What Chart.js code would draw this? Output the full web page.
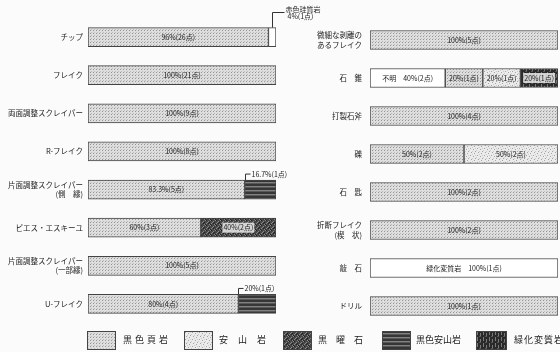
<!DOCTYPE html>
<html>
<head>
<meta charset="utf-8">
<title>石材別 器種構成</title>
<style>
  body { margin: 0; background: #fbfbfb; font-family: "Noto Sans CJK JP", sans-serif; }
  #wrap { position: relative; width: 560px; height: 352px; overflow: hidden; }
  #wrap canvas.chart { position: absolute; left: 0; top: 0; }
  .sw { position: absolute; top: 331px; }
  .lt { position: absolute; top: 334px; font-size: 9px; line-height: 12px; color: #222; white-space: nowrap; }
</style>
</head>
<body>
<div id="wrap">
  <canvas id="chartLeft" class="chart" width="560" height="352"></canvas>
  <canvas id="chartRight" class="chart" width="560" height="352"></canvas>
  <canvas class="sw" id="sw0" width="29" height="19" style="left:87px"></canvas>
  <span class="lt" style="left:123px;letter-spacing:3px">黒色頁岩</span>
  <canvas class="sw" id="sw1" width="29" height="19" style="left:184px"></canvas>
  <span class="lt" style="left:219px;letter-spacing:10px">安山岩</span>
  <canvas class="sw" id="sw2" width="29" height="19" style="left:283px"></canvas>
  <span class="lt" style="left:318px;letter-spacing:9px">黒曜石</span>
  <canvas class="sw" id="sw3" width="29" height="19" style="left:382px"></canvas>
  <span class="lt" style="left:416px">黒色安山岩</span>
  <canvas class="sw" id="sw4" width="31" height="19" style="left:476px"></canvas>
  <span class="lt" style="left:514px;letter-spacing:1px">緑化変質岩</span>
</div>

<script src="https://cdn.jsdelivr.net/npm/chart.js"></script>
<script>
  // 左列
  var leftLabels = ['チップ', 'フレイク', '両面調整スクレイパー', 'R-フレイク',
    ['片面調整スクレイパー', '(側　縁)'], 'ピエス・エスキーユ',
    ['片面調整スクレイパー', '(一部縁)'], 'U-フレイク'];
  var leftShale = [96, 100, 100, 100, 83.3, 60, 100, 80];
  var leftShaleN = [26, 21, 9, 8, 5, 3, 5, 4];
  var leftRed = [4, 0, 0, 0, 0, 0, 0, 0];
  var leftRedN = [1, 0, 0, 0, 0, 0, 0, 0];
  var leftObsidian = [0, 0, 0, 0, 0, 40, 0, 0];
  var leftObsidianN = [0, 0, 0, 0, 0, 2, 0, 0];
  var leftBlackAnd = [0, 0, 0, 0, 16.7, 0, 0, 20];
  var leftBlackAndN = [0, 0, 0, 0, 1, 0, 0, 1];

  // 右列
  var rightLabels = [['微細な剥離の', 'あるフレイク'], '石　錐', '打製石斧', '礫', '石　匙',
    ['折断フレイク', '(楔　状)'], '敲　石', 'ドリル'];
  var rightUnknown = [0, 40, 0, 0, 0, 0, 0, 0];
  var rightUnknownN = [0, 2, 0, 0, 0, 0, 0, 0];
  var rightShale = [100, 20, 100, 50, 100, 100, 0, 100];
  var rightShaleN = [5, 1, 4, 2, 2, 2, 0, 1];
  var rightAndesite = [0, 20, 0, 50, 0, 0, 0, 0];
  var rightAndesiteN = [0, 1, 0, 2, 0, 0, 0, 0];
  var rightGreen = [0, 20, 0, 0, 0, 0, 100, 0];
  var rightGreenN = [0, 1, 0, 0, 0, 0, 1, 0];

  function makePattern(w, h, draw) {
    var c = document.createElement('canvas');
    c.width = w; c.height = h;
    var g = c.getContext('2d');
    draw(g);
    return g.createPattern(c, 'repeat');
  }

  var patShale = makePattern(3, 3, function (g) {
    g.fillStyle = '#dedede'; g.fillRect(0, 0, 3, 3);
    g.fillStyle = '#949494'; g.fillRect(0, 0, 1, 1);
    g.fillStyle = '#bcbcbc'; g.fillRect(1, 2, 1, 1);
  });
  var patAndesite = makePattern(7, 7, function (g) {
    g.fillStyle = '#ebebeb'; g.fillRect(0, 0, 7, 7);
    g.fillStyle = '#a4a4a4';
    [[1, 1], [4, 2], [2, 5], [6, 4], [5, 6]].forEach(function (p) { g.fillRect(p[0], p[1], 1, 1); });
    g.fillStyle = '#cccccc';
    [[3, 0], [0, 3], [6, 1], [3, 4]].forEach(function (p) { g.fillRect(p[0], p[1], 1, 1); });
  });
  var patObsidian = makePattern(5, 5, function (g) {
    g.fillStyle = '#474747'; g.fillRect(0, 0, 5, 5);
    g.fillStyle = '#8a8a8a';
    [[0, 0], [3, 1], [1, 3], [4, 4], [2, 2]].forEach(function (p) { g.fillRect(p[0], p[1], 1, 1); });
    g.fillStyle = '#222222';
    [[1, 0], [4, 2], [0, 4], [3, 3]].forEach(function (p) { g.fillRect(p[0], p[1], 1, 1); });
  });
  var patBlackAnd = makePattern(2, 4, function (g) {
    g.fillStyle = '#363636'; g.fillRect(0, 0, 2, 4);
    g.fillStyle = '#828282'; g.fillRect(0, 2, 2, 1);
    g.fillStyle = '#585858'; g.fillRect(0, 3, 2, 1);
  });
  var patGreen = makePattern(6, 6, function (g) {
    g.fillStyle = '#2a2a2a'; g.fillRect(0, 0, 6, 6);
    g.fillStyle = '#7a7a7a';
    g.fillRect(1, 0, 1, 4); g.fillRect(4, 2, 1, 3);
    g.fillStyle = '#555555'; g.fillRect(3, 5, 2, 1);
  });

  function nz(arr) { return arr.map(function (v) { return v || null; }); }

  function fmt(v, n) { return v + '%(' + n + '点)'; }

  // 棒の中の値ラベルと、外に出す注記
  var segLabels = {
    id: 'segLabels',
    afterDatasetsDraw: function (chart) {
      var ctx = chart.ctx;
      var conf = chart.options.plugins.segLabels;
      ctx.save();
      ctx.font = '7px "Noto Sans CJK JP"';
      ctx.textBaseline = 'middle';
      chart.data.datasets.forEach(function (ds, di) {
        var meta = chart.getDatasetMeta(di);
        meta.data.forEach(function (el, i) {
          var v = ds.data[i];
          if (!v) return;
          var n = ds.counts[i];
          var x0 = Math.min(el.x, el.base), x1 = Math.max(el.x, el.base);
          var top = el.y - el.height / 2;
          var mode = conf.outside[di];
          ctx.fillStyle = '#222';
          ctx.strokeStyle = '#333';
          ctx.lineWidth = 1;
          if (mode === 'named') {
            var lx = Math.round((x0 + x1) / 2) + 0.5;
            ctx.beginPath();
            ctx.moveTo(lx, top);
            ctx.lineTo(lx, 12.5);
            ctx.lineTo(lx + 12, 12.5);
            ctx.stroke();
            ctx.textAlign = 'left';
            ctx.fillText(ds.label, lx + 13, 9);
            ctx.fillText(fmt(v, n), lx + 15, 16);
            return;
          }
          if (mode === 'edge') {
            var ex = Math.round(x0) + 0.5;
            ctx.beginPath();
            ctx.moveTo(ex, top);
            ctx.lineTo(ex, top - 6);
            ctx.lineTo(ex + 5, top - 6);
            ctx.stroke();
            ctx.textAlign = 'left';
            ctx.fillText(fmt(v, n), ex + 6, top - 6);
            return;
          }
          var txt = (ds.prefix && ds.prefix[i] ? ds.prefix[i] : '') + fmt(v, n);
          var cx = (x0 + x1) / 2;
          ctx.textAlign = 'center';
          if (ds.darkText === false && ds.backgroundColor[i] !== '#ffffff') {
            var tw = ctx.measureText(txt).width;
            ctx.fillStyle = 'rgba(235,235,235,0.85)';
            ctx.fillRect(cx - tw / 2 - 1, el.y - 5, tw + 2, 10);
            ctx.fillStyle = '#222';
          }
          ctx.fillText(txt, cx, el.y);
        });
      });
      ctx.restore();
    }
  };

  function colors(arr, pat, override) {
    return arr.map(function (v, i) { return override && override[i] ? override[i] : pat; });
  }

  function baseOptions(pad, axisWidth, labelPad, outside) {
    return {
      indexAxis: 'y',
      responsive: false,
      animation: false,
      devicePixelRatio: 1,
      layout: { padding: pad },
      plugins: { legend: { display: false }, tooltip: { enabled: false }, segLabels: { outside: outside } },
      scales: {
        x: { stacked: true, min: 0, max: 100, display: false },
        y: {
          stacked: true,
          grid: { display: false, drawTicks: false },
          border: { display: false },
          afterFit: function (s) { s.width = axisWidth; },
          ticks: { padding: labelPad, color: '#222', font: { family: '"Noto Sans CJK JP"', size: 7.5, lineHeight: 1.25 } }
        }
      }
    };
  }

  function ds(label, data, counts, bg, extra) {
    var d = {
      label: label,
      data: nz(data),
      counts: counts,
      backgroundColor: bg,
      borderColor: '#444444',
      borderWidth: 1,
      borderSkipped: false,
      barThickness: 19
    };
    for (var k in extra) d[k] = extra[k];
    return d;
  }

  new Chart(document.getElementById('chartLeft'), {
    type: 'bar',
    data: {
      labels: leftLabels,
      datasets: [
        ds('黒色頁岩', leftShale, leftShaleN, colors(leftShale, patShale)),
        ds('赤色珪質岩', leftRed, leftRedN, colors(leftRed, '#ffffff')),
        ds('黒曜石', leftObsidian, leftObsidianN, colors(leftObsidian, patObsidian), { darkText: false }),
        ds('黒色安山岩', leftBlackAnd, leftBlackAndN, colors(leftBlackAnd, patBlackAnd))
      ]
    },
    options: baseOptions({ left: 0, right: 284, top: 18, bottom: 29 }, 88, 5, [null, 'named', null, 'edge']),
    plugins: [segLabels]
  });

  new Chart(document.getElementById('chartRight'), {
    type: 'bar',
    data: {
      labels: rightLabels,
      datasets: [
        ds('不明', rightUnknown, rightUnknownN, colors(rightUnknown, '#ffffff'), { prefix: ['', '不明　', '', '', '', '', '', ''] }),
        ds('黒色頁岩', rightShale, rightShaleN, colors(rightShale, patShale)),
        ds('安山岩', rightAndesite, rightAndesiteN, colors(rightAndesite, patAndesite)),
        ds('緑化変質岩', rightGreen, rightGreenN,
          colors(rightGreen, patGreen, [null, null, null, null, null, null, '#ffffff', null]),
          { darkText: false, prefix: ['', '', '', '', '', '', '緑化変質岩　', ''] })
      ]
    },
    options: baseOptions({ left: 280, right: 2, top: 21, bottom: 27 }, 90, 8, [null, null, null, null]),
    plugins: [segLabels]
  });

  // 凡例の見本
  var swatches = [patShale, patAndesite, patObsidian, patBlackAnd, patGreen];
  swatches.forEach(function (p, i) {
    var c = document.getElementById('sw' + i);
    var g = c.getContext('2d');
    g.fillStyle = p;
    g.fillRect(0, 0, c.width, c.height);
    g.strokeStyle = '#444444';
    g.strokeRect(0.5, 0.5, c.width - 1, c.height - 1);
  });
</script>
</body>
</html>
